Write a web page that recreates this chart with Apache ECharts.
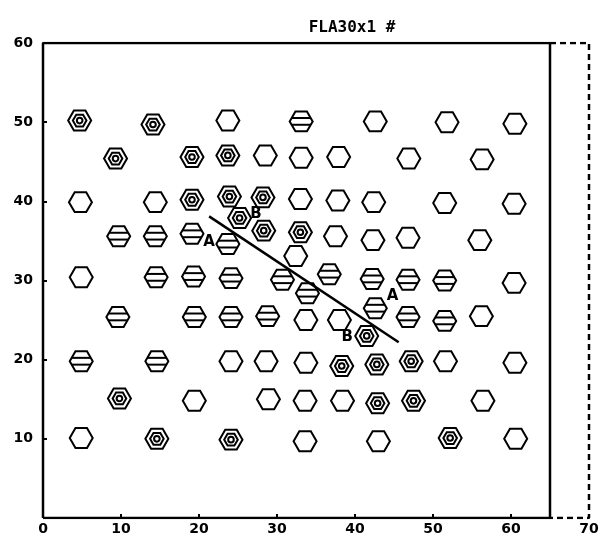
<!DOCTYPE html>
<html>
<head>
<meta charset="utf-8">
<script src="https://cdn.jsdelivr.net/npm/echarts@6/dist/echarts.min.js"></script>
<style>html,body{margin:0;padding:0;background:#fff}#c{width:604px;height:537px}</style>
</head>
<body>
<div id="c"></div>
<script>
// ---- data ----
const titleText = 'FLA30x1 #';
const xTicks = [0, 10, 20, 30, 40, 50, 60, 70];
const yTicks = [10, 20, 30, 40, 50, 60];

const plainPts = [[23.7,50.2],[42.6,50.1],[51.8,50.0],[60.5,49.8],[28.5,45.8],[33.1,45.5],[37.9,45.6],[46.9,45.4],[56.3,45.3],
  [4.8,39.9],[14.4,39.9],[33.0,40.3],[37.8,40.1],[42.4,39.9],[51.5,39.8],[60.4,39.7],[37.5,35.6],[42.3,35.1],[46.8,35.4],[56.0,35.1],
  [32.4,33.1],[4.9,30.4],[60.4,29.7],[33.7,25.0],[38.0,25.0],[56.2,25.5],[24.1,19.8],[28.6,19.8],[33.7,19.6],[51.6,19.8],[60.5,19.6],
  [19.4,14.8],[28.9,15.0],[33.6,14.8],[38.4,14.8],[56.4,14.8],[4.9,10.1],[33.6,9.7],[43.0,9.7],[60.6,10.0]];
const concentricPts = [[4.7,50.2],[14.1,49.7],[9.3,45.4],[19.1,45.6],[23.7,45.8],[19.1,40.2],[23.9,40.6],[28.2,40.5],[25.2,37.9],
  [28.3,36.3],[33.0,36.1],[41.5,23.0],[38.3,19.2],[42.8,19.4],[47.2,19.8],[42.9,14.5],[47.5,14.8],[9.8,15.1],[14.6,10.0],[24.1,9.9],[52.2,10.1]];
const stripedPts = [[33.1,50.1],[9.7,35.6],[14.4,35.6],[19.1,35.9],[23.7,34.6],[14.5,30.4],[19.3,30.5],[24.1,30.3],[30.7,30.1],
  [36.7,30.8],[42.2,30.2],[46.8,30.1],[51.5,30.0],[33.9,28.4],[42.6,26.5],[46.8,25.4],[51.5,24.9],[9.6,25.4],[19.4,25.4],[24.1,25.4],
  [28.8,25.5],[4.9,19.8],[14.6,19.8]];
const sectionLine = [[21.3,38.1],[45.6,22.2]];
const markNames = ['A', 'B', 'A', 'B'];
const markX = [21.3, 27.3, 44.8, 39.0];
const markY = [34.9, 38.4, 28.0, 22.9];
const solidFrame = [[0,0],[0,60],[65,60],[65,0],[0,0]];
const dashFrame = [[65,60],[70,60],[70,0],[65,0]];

// ---- rendering ----
const FONT = '"DejaVu Sans", sans-serif';
const MONO = '"DejaVu Sans Mono", monospace';
const R = 11.5;
function hex(cx, cy, r) {
  const h = r * Math.sqrt(3) / 2;
  return [[cx - r, cy], [cx - r / 2, cy - h], [cx + r / 2, cy - h], [cx + r, cy], [cx + r / 2, cy + h], [cx - r / 2, cy + h]];
}
const stroke = { stroke: '#000', fill: 'none', lineWidth: 2 };
function hexSeries(pts, kind) {
  return {
    type: 'custom', data: pts, silent: true, z: 5,
    renderItem: function (params, api) {
      const p = api.coord([api.value(0), api.value(1)]);
      const cx = p[0], cy = p[1];
      const children = [{ type: 'polygon', shape: { points: hex(cx, cy, R) }, style: stroke }];
      if (kind === 'concentric') {
        children.push({ type: 'polygon', shape: { points: hex(cx, cy, 6.8) }, style: stroke });
        children.push({ type: 'circle', shape: { cx: cx, cy: cy, r: 2.8 }, style: stroke });
      } else if (kind === 'striped') {
        const hh = R * Math.sqrt(3) / 2;
        [-3.4, 3.4].forEach(function (d) {
          const hw = R - (Math.abs(d) / hh) * (R / 2);
          children.push({ type: 'line', shape: { x1: cx - hw, y1: cy + d, x2: cx + hw, y2: cy + d }, style: { stroke: '#000', lineWidth: 2 } });
        });
      }
      return { type: 'group', children: children };
    }
  };
}

const chart = echarts.init(document.getElementById('c'), null, { renderer: 'canvas' });
chart.setOption({
  animation: false,
  backgroundColor: '#fff',
  title: {
    text: titleText, left: 347, top: 15, textAlign: 'center',
    textStyle: { fontFamily: MONO, fontSize: 16, fontWeight: 'bold', color: '#000' }
  },
  grid: { left: 43, right: 15, top: 43, bottom: 19 },
  xAxis: {
    type: 'value', min: 0, max: 70, interval: 10,
    axisLine: { show: false },
    axisTick: { show: true, inside: true, length: 4, lineStyle: { color: '#000', width: 2 } },
    splitLine: { show: false },
    axisLabel: {
      margin: 4, color: '#000', fontFamily: FONT, fontSize: 14, fontWeight: 'bold',
      formatter: function (v) { return xTicks.indexOf(v) >= 0 ? String(v) : ''; }
    }
  },
  yAxis: {
    type: 'value', min: 0, max: 60, interval: 10,
    axisLine: { show: false },
    axisTick: { show: true, inside: true, length: 4, lineStyle: { color: '#000', width: 2 } },
    splitLine: { show: false },
    axisLabel: {
      margin: 10, color: '#000', fontFamily: FONT, fontSize: 14, fontWeight: 'bold',
      formatter: function (v) { return yTicks.indexOf(v) >= 0 ? String(v) : ''; }
    }
  },
  series: [
    { type: 'line', data: solidFrame, symbol: 'none', silent: true, z: 3,
      lineStyle: { color: '#000', width: 2.5 } },
    { type: 'line', data: dashFrame, symbol: 'none', silent: true, z: 3,
      lineStyle: { color: '#000', width: 2.5, type: [6, 4] } },
    hexSeries(plainPts, 'plain'),
    hexSeries(concentricPts, 'concentric'),
    hexSeries(stripedPts, 'striped'),
    { type: 'line', data: sectionLine, symbol: 'none', silent: true, z: 6,
      lineStyle: { color: '#000', width: 2.5 } },
    { type: 'custom', silent: true, z: 7,
      data: markNames.map(function (n, i) { return [markX[i], markY[i], n]; }),
      renderItem: function (params, api) {
        const p = api.coord([api.value(0), api.value(1)]);
        return { type: 'text', x: p[0], y: p[1],
          style: { text: markNames[params.dataIndex], font: 'bold 15px ' + FONT, fill: '#000', align: 'center', verticalAlign: 'middle' } };
      }
    }
  ]
});
</script>
</body>
</html>
